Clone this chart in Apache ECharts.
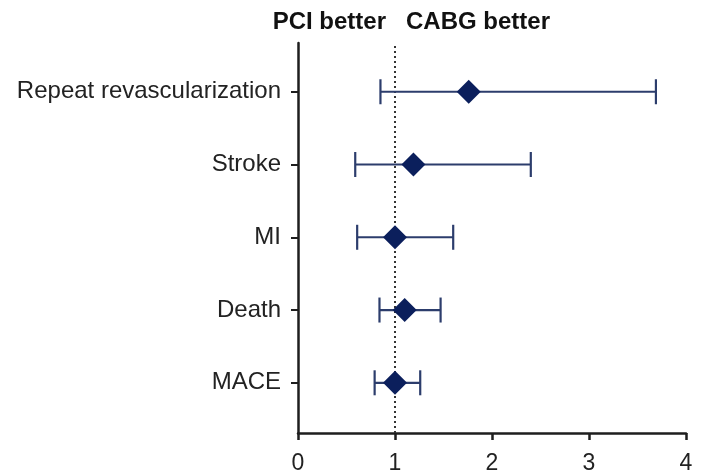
<!DOCTYPE html>
<html>
<head>
<meta charset="utf-8">
<script src="https://cdn.jsdelivr.net/npm/echarts@6/dist/echarts.min.js"></script>
<style>html,body{margin:0;padding:0;background:#fff;}#c{width:702px;height:476px;}</style>
</head>
<body>
<div id="c"></div>
<script>
// Data (bottom to top)
const categories = ['MACE', 'Death', 'MI', 'Stroke', 'Repeat revascularization'];
const estimates = [1.00, 1.10, 1.00, 1.19, 1.76];
const lower = [0.79, 0.84, 0.61, 0.59, 0.85];
const upper = [1.26, 1.47, 1.60, 2.40, 3.69];
const xTicks = [0, 1, 2, 3, 4];
const refValue = 1;
const leftHeader = 'PCI better';
const rightHeader = 'CABG better';

const positions = categories.map((c, i) => i + 1);
const ciData = categories.map((c, i) => [lower[i], upper[i], positions[i]]);
const pointData = categories.map((c, i) => [estimates[i], positions[i]]);

const chart = echarts.init(document.getElementById('c'));
const font = 'Liberation Sans, Arial, Helvetica, sans-serif';
const axisColor = '#1e1e1e';
const barColor = '#2c3d6c';
const markColor = '#0b1f5c';

chart.setOption({
  animation: false,
  backgroundColor: '#fff',
  grid: { left: 298, right: 16, top: 43, bottom: 43, containLabel: false },
  xAxis: {
    type: 'value', min: xTicks[0], max: xTicks[xTicks.length - 1], interval: 1,
    axisLine: { show: true, lineStyle: { color: axisColor, width: 2.5 } },
    axisTick: { show: true, length: 7, lineStyle: { color: axisColor, width: 2.5 } },
    axisLabel: { color: '#222', fontSize: 23, fontFamily: font, margin: 19 },
    splitLine: { show: false }
  },
  yAxis: {
    type: 'value', min: 0.31, max: 5.67,
    axisLine: { show: true, onZero: false, lineStyle: { color: axisColor, width: 2.5 } },
    axisTick: { show: true, length: 7, customValues: positions, lineStyle: { color: axisColor, width: 2 } },
    axisLabel: {
      customValues: positions, color: '#222', fontSize: 24, fontFamily: font, margin: 17,
      formatter: v => categories[Math.round(v) - 1] || ''
    },
    splitLine: { show: false }
  },
  graphic: [
    { type: 'text', style: { text: leftHeader, x: 386, y: 22, align: 'right', verticalAlign: 'middle', font: 'bold 24px ' + font, fill: '#111' } },
    { type: 'text', style: { text: rightHeader, x: 406, y: 22, align: 'left', verticalAlign: 'middle', font: 'bold 24px ' + font, fill: '#111' } }
  ],
  series: [
    {
      type: 'custom',
      data: ciData,
      encode: { x: [0, 1], y: 2 },
      renderItem: function (params, api) {
        const lo = api.coord([api.value(0), api.value(2)]);
        const hi = api.coord([api.value(1), api.value(2)]);
        const h = 12.5;
        const style = { stroke: barColor, lineWidth: 2.2, fill: null };
        return {
          type: 'group',
          children: [
            { type: 'line', shape: { x1: lo[0], y1: lo[1], x2: hi[0], y2: hi[1] }, style: style },
            { type: 'line', shape: { x1: lo[0], y1: lo[1] - h, x2: lo[0], y2: lo[1] + h }, style: style },
            { type: 'line', shape: { x1: hi[0], y1: hi[1] - h, x2: hi[0], y2: hi[1] + h }, style: style }
          ]
        };
      },
      z: 3
    },
    {
      type: 'scatter',
      data: pointData,
      symbol: 'diamond',
      symbolSize: [24, 24],
      itemStyle: { color: markColor, opacity: 1 },
      z: 5,
      markLine: {
        silent: true,
        symbol: 'none',
        label: { show: false },
        lineStyle: { color: '#333', type: [2, 3], width: 2 },
        data: [{ xAxis: refValue }],
        z: 2
      }
    }
  ]
});
</script>
</body>
</html>
